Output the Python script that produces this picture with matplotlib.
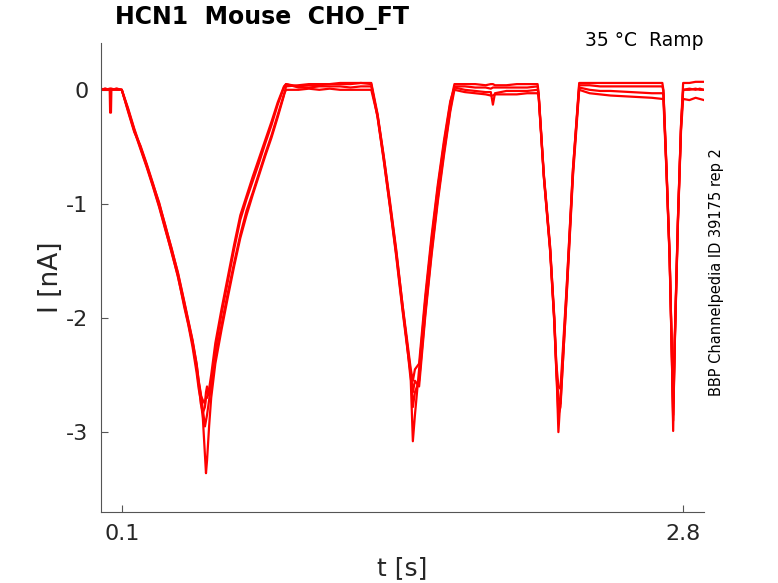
import matplotlib
matplotlib.use("Agg")
import matplotlib.pyplot as plt

# sample times (s) shared by all sweeps
t_s = [
    0.0, 0.02, 0.042, 0.044, 0.048, 0.05, 0.075, 0.10,
    0.13, 0.16, 0.19, 0.22, 0.25, 0.28, 0.31, 0.34, 0.37, 0.40, 0.42, 0.44, 0.46, 0.47, 0.48, 0.49, 0.50, 0.505,
    0.51, 0.52, 0.53, 0.55, 0.58, 0.61, 0.64, 0.67, 0.70, 0.73, 0.76, 0.79, 0.82, 0.85, 0.88, 0.89,
    0.95, 1.00, 1.05, 1.10, 1.15, 1.20, 1.25, 1.30,
    1.33, 1.36, 1.39, 1.42, 1.45, 1.47, 1.49, 1.50,
    1.51, 1.53, 1.56, 1.59, 1.62, 1.65, 1.68, 1.70,
    1.75, 1.80, 1.85, 1.875, 1.885, 1.895, 1.95, 2.00, 2.05, 2.10,
    2.105, 2.13, 2.16, 2.18, 2.19, 2.20, 2.21, 2.24, 2.27, 2.30,
    2.35, 2.40, 2.45, 2.55, 2.65, 2.70,
    2.705, 2.72, 2.735, 2.745, 2.752, 2.76, 2.775, 2.79, 2.80,
    2.83, 2.86, 2.88, 2.90,
]

# current (nA) of each sweep
sweep1 = [
    0.0, 0.01, 0.0, -0.20, -0.20, 0.0, 0.01, 0.0,
    -0.17, -0.35, -0.51, -0.67, -0.84, -1.02, -1.22, -1.43, -1.63, -1.90, -2.06, -2.25, -2.48, -2.62, -2.72, -2.88, -3.20, -3.36,
    -3.25, -2.95, -2.70, -2.40, -2.10, -1.82, -1.55, -1.30, -1.10, -0.92, -0.75, -0.58, -0.42, -0.24, -0.05, 0.03,
    0.04, 0.05, 0.05, 0.05, 0.06, 0.06, 0.06, 0.06,
    -0.21, -0.58, -0.98, -1.40, -1.88, -2.20, -2.55, -3.08,
    -2.85, -2.45, -1.84, -1.32, -0.86, -0.47, -0.12, 0.05,
    0.05, 0.05, 0.04, 0.05, 0.05, 0.04, 0.04, 0.05, 0.05, 0.05,
    -0.03, -0.74, -1.37, -2.00, -2.42, -3.00, -2.70, -1.74, -0.70, 0.06,
    0.06, 0.06, 0.06, 0.06, 0.06, 0.06,
    0.0, -0.68, -1.45, -2.25, -2.99, -2.15, -1.12, -0.30, 0.06,
    0.06, 0.07, 0.07, 0.07,
]
sweep2 = [
    0.01, 0.0, 0.01, 0.0, 0.01, 0.0, 0.01, 0.0,
    -0.19, -0.37, -0.49, -0.65, -0.82, -1.00, -1.19, -1.40, -1.60, -1.85, -2.02, -2.19, -2.40, -2.55, -2.66, -2.80, -2.95, -2.90,
    -2.85, -2.72, -2.58, -2.28, -1.96, -1.68, -1.40, -1.14, -0.96, -0.80, -0.64, -0.47, -0.31, -0.13, 0.02, 0.05,
    0.03, 0.04, 0.04, 0.05, 0.05, 0.05, 0.06, 0.05,
    -0.24, -0.62, -1.03, -1.46, -1.93, -2.22, -2.50, -2.78,
    -2.65, -2.55, -1.95, -1.42, -0.95, -0.54, -0.17, 0.03,
    0.03, 0.02, 0.02, 0.01, 0.02, 0.02, 0.02, 0.02, 0.02, 0.03,
    -0.05, -0.76, -1.40, -2.02, -2.45, -2.85, -2.78, -1.78, -0.73, 0.04,
    0.04, 0.03, 0.03, 0.03, 0.03, 0.03,
    -0.01, -0.70, -1.47, -2.27, -2.85, -2.20, -1.15, -0.32, 0.0,
    0.01, 0.0, 0.01, 0.0,
]
sweep3 = [
    0.0, 0.0, 0.0, 0.01, 0.0, 0.01, 0.0, 0.0,
    -0.18, -0.36, -0.52, -0.68, -0.85, -1.03, -1.23, -1.42, -1.64, -1.88, -2.05, -2.22, -2.44, -2.58, -2.75, -2.83, -2.78, -2.70,
    -2.70, -2.62, -2.50, -2.22, -1.92, -1.64, -1.36, -1.10, -0.93, -0.76, -0.60, -0.44, -0.28, -0.11, 0.03, 0.05,
    0.02, 0.02, 0.03, 0.03, 0.03, 0.02, 0.03, 0.03,
    -0.22, -0.59, -1.00, -1.42, -1.88, -2.16, -2.45, -2.55,
    -2.45, -2.40, -1.80, -1.28, -0.83, -0.44, -0.10, 0.02,
    0.0, -0.01, -0.02, -0.02, -0.13, -0.03, -0.01, -0.01, -0.01, 0.0,
    -0.04, -0.75, -1.38, -1.98, -2.40, -2.60, -2.62, -1.72, -0.69, 0.02,
    0.0, -0.01, -0.01, -0.02, -0.03, -0.03,
    -0.03, -0.71, -1.46, -2.24, -2.75, -2.18, -1.13, -0.31, 0.0,
    0.0, 0.01, 0.0, 0.0,
]
sweep4 = [
    0.0, 0.01, 0.0, 0.0, 0.0, 0.0, 0.0, 0.0,
    -0.16, -0.34, -0.50, -0.66, -0.83, -0.99, -1.20, -1.39, -1.61, -1.86, -2.03, -2.20, -2.41, -2.56, -2.68, -2.72, -2.75, -2.65,
    -2.60, -2.68, -2.60, -2.35, -2.06, -1.78, -1.52, -1.27, -1.06, -0.90, -0.73, -0.56, -0.40, -0.22, -0.04, 0.00,
    0.0, 0.01, 0.0, 0.01, 0.0, 0.0, 0.0, 0.0,
    -0.23, -0.61, -1.02, -1.44, -1.91, -2.19, -2.48, -2.65,
    -2.55, -2.60, -1.98, -1.45, -0.98, -0.57, -0.19, 0.00,
    -0.02, -0.03, -0.04, -0.05, -0.05, -0.04, -0.04, -0.04, -0.03, -0.03,
    -0.06, -0.77, -1.41, -2.03, -2.47, -2.70, -2.75, -1.80, -0.76, 0.00,
    -0.03, -0.04, -0.05, -0.06, -0.07, -0.08,
    -0.08, -0.73, -1.49, -2.28, -2.90, -2.22, -1.17, -0.35, -0.08,
    -0.09, -0.07, -0.08, -0.09,
]
sweeps = [sweep1, sweep2, sweep3, sweep4]

x_ticks = [0.1, 2.8]
x_ticklabels = ["0.1", "2.8"]
y_ticks = [-3, -2, -1, 0]
y_ticklabels = ["-3", "-2", "-1", "0"]

plt.rcParams['font.family'] = ['DejaVu Sans']
plt.rcParams['axes.unicode_minus'] = False

fig = plt.figure(figsize=(7.78, 5.83), dpi=100)
ax = fig.add_axes([0.1298, 0.1218, 0.775, 0.8044])

for cur in sweeps:
    ax.plot(t_s, cur, color='#ff0000', linewidth=1.6)

ax.set_xlim(0, 2.9)
ax.set_ylim(-3.7, 0.41)
ax.set_xticks(x_ticks)
ax.set_xticklabels(x_ticklabels)
ax.set_yticks(y_ticks)
ax.set_yticklabels(y_ticklabels)

grey = '#262626'
for side in ['top', 'right']:
    ax.spines[side].set_visible(False)
for side in ['left', 'bottom']:
    ax.spines[side].set_color('#555555')
    ax.spines[side].set_linewidth(0.8)
ax.tick_params(direction='in', length=5, width=0.8, color='#555555',
               labelsize=16, labelcolor=grey, pad=9)

ax.set_xlabel("t [s]", fontsize=18, color=grey, labelpad=8)
ax.set_ylabel("I [nA]", fontsize=19, color=grey, labelpad=2)

fig.text(0.148, 0.969, "HCN1  Mouse  CHO_FT", fontsize=17, fontweight='bold',
         ha='left', va='center', color='black')
fig.text(0.904, 0.930, "35 °C  Ramp", fontsize=13.5, ha='right', va='center',
         color='black')
fig.text(0.921, 0.533, "BBP Channelpedia ID 39175 rep 2", fontsize=10.5,
         rotation=90, ha='center', va='center', color='black')

fig.savefig("out.png", dpi=100)
